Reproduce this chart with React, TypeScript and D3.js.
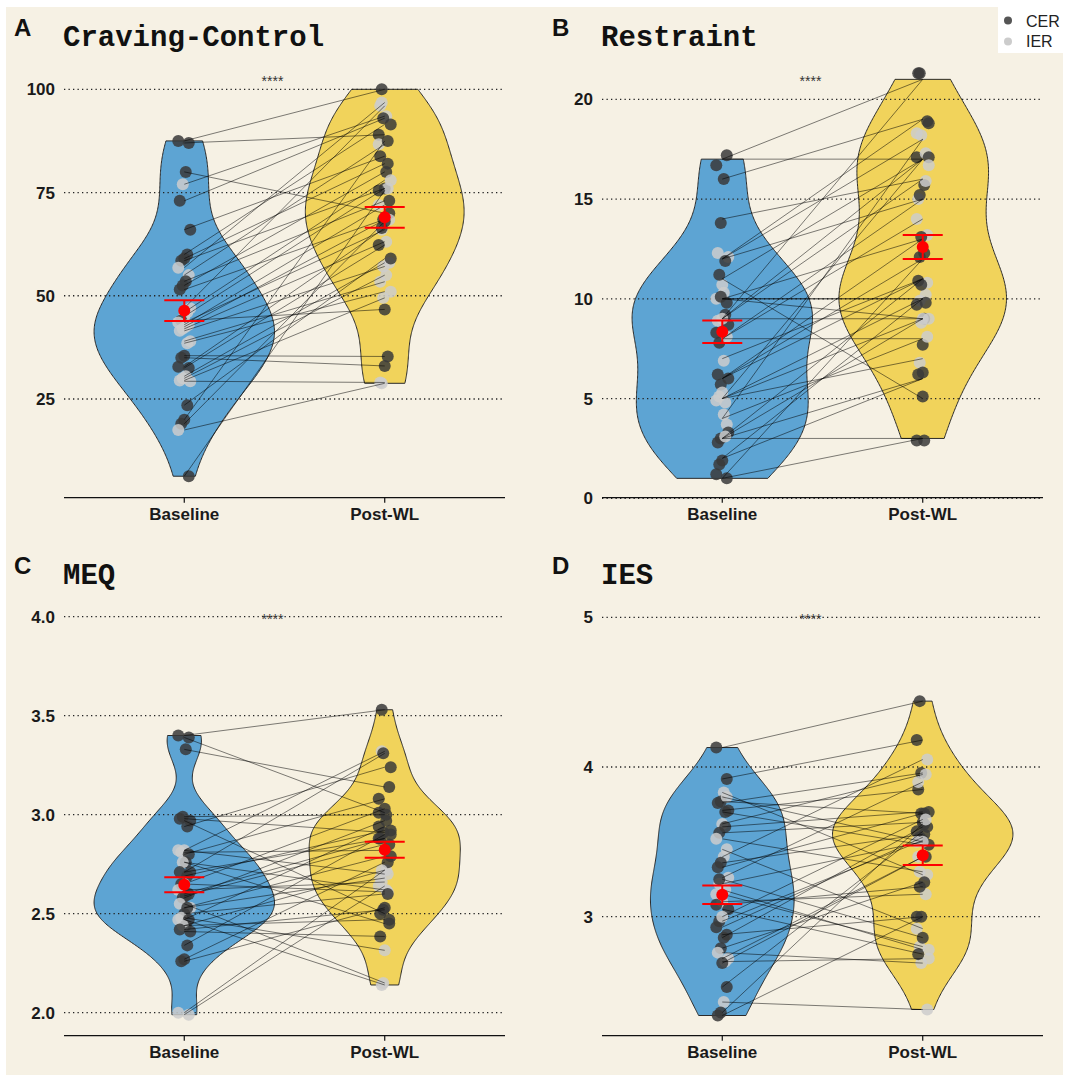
import React from "react";
import * as d3 from "d3";

const timepoints = ["Baseline", "Post-WL"];
const groupNames = ["CER", "IER"];

// A: Craving-Control
const craveBase = [87.5, 87, 80, 77, 73, 66, 60, 59, 58.5, 56.8, 55, 53.5, 52.5, 51.5, 47, 46, 45, 44, 43.5, 43, 42.5, 42, 41.5, 39, 38.5, 35.5, 35, 32.8, 32.5, 30.5, 30, 29.5, 29.3, 23.5, 20, 19, 17.5, 6.3];
const cravePost = [100, 89, 70, 93.5, 93, 83.8, 91.5, 82, 76, 96.8, 86.7, 73, 80, 68.5, 96, 78, 76, 46.7, 66, 72, 68.4, 63.1, 57.1, 53.4, 51, 35.3, 33, 66.4, 62.3, 58, 55, 49.5, 29, 59, 87.5, 68, 28.8, 75.5];
const craveGroup = "CCCICCCCCIICCCIIICIIIIIIICCCCIIIICCCIC";
const craveMean = [46.4, 69.0];
const craveSE = [2.5, 2.5];
const craveTicks = [25, 50, 75, 100];

// B: Restraint
const restrBase = [17, 17, 16, 14, 12, 12, 12, 11, 11, 10, 10, 10, 10, 9, 9, 9, 9, 8, 8, 8, 7, 6, 6, 6, 5, 5, 5, 5, 4, 4, 3, 3, 3, 3, 2, 2, 1, 1];
const restrPost = [21, 17, 19, 16, 18, 15, 19, 17, 5, 10, 10, 13, 9, 9, 21, 17, 16, 8, 15, 14, 11, 12, 13, 11, 17, 10, 9, 7, 18, 8, 3, 11, 6, 9, 10, 6, 12, 3];
const restrGroup = "CCCCIICICICICICCICCIICCCIIIIIICCCICCCC";
const restrMean = [8.35, 12.6];
const restrSE = [0.56, 0.6];
const restrTicks = [0, 5, 10, 15, 20];

// C: MEQ
const meqBase = [3.40, 3.39, 3.33, 2.99, 2.98, 2.97, 2.94, 2.82, 2.81, 2.82, 2.80, 2.76, 2.76, 2.71, 2.71, 2.69, 2.65, 2.65, 2.62, 2.60, 2.59, 2.58, 2.55, 2.53, 2.53, 2.50, 2.48, 2.47, 2.47, 2.44, 2.44, 2.42, 2.41, 2.34, 2.27, 2.26, 2.00, 1.99];
const meqPost = [3.53, 3.01, 3.14, 3.00, 2.91, 2.50, 3.24, 2.70, 2.82, 3.32, 3.08, 2.45, 2.62, 3.31, 2.88, 2.92, 2.61, 3.03, 2.66, 2.88, 2.85, 2.97, 2.15, 2.68, 2.79, 2.60, 2.315, 2.14, 2.94, 2.47, 2.72, 2.52, 2.385, 2.90, 2.76, 2.53, 2.72, 2.64];
const meqGroup = "CCCCCCCIIICCICCCICICCCIICCIICCICCCCCII";
const meqMean = [2.646, 2.823];
const meqSE = [0.038, 0.04];
const meqTicks = [2.0, 2.5, 3.0, 3.5, 4.0];

// D: IES
const iesBase = [4.13, 3.92, 3.83, 3.77, 3.76, 3.71, 3.70, 3.62, 3.56, 3.52, 3.45, 3.40, 3.36, 3.33, 3.26, 3.18, 3.10, 2.97, 2.93, 2.88, 2.86, 2.79, 2.76, 2.72, 2.70, 2.69, 3.22, 3.15, 2.53, 2.43, 2.36, 2.34, 3.05, 3.60, 3.00, 3.25, 3.08, 3.80];
const iesPost = [4.44, 4.18, 3.28, 3.69, 3.96, 3.85, 3.48, 3.95, 3.63, 3.30, 2.92, 4.05, 3.55, 3.69, 3.90, 2.78, 3.15, 3.51, 3.53, 3.00, 3.60, 3.23, 2.69, 3.40, 2.72, 3.40, 3.50, 2.80, 3.57, 2.38, 3.62, 3.00, 2.75, 3.70, 3.65, 2.86, 3.20, 3.50];
const iesGroup = "CCICCCCICIIICCIIICCCCCIIICIICICCCCICCI";
const iesMean = [3.147, 3.41];
const iesSE = [0.062, 0.065];
const iesTicks = [3, 4, 5];

const BG = "#F6F1E4";
const BLUE = "#5DA4D3";
const YELLOW = "#F1D35B";
const DARK = "#3a3a3a";
const LIGHT = "#cdcdcd";

function nrd0(x: number[]) {
  const s = [...x].sort((a, b) => a - b);
  const hi = d3.deviation(s) || 0;
  const iqr = (d3.quantileSorted(s, 0.75)! - d3.quantileSorted(s, 0.25)!) / 1.34;
  let lo = Math.min(hi, iqr);
  if (!lo) lo = hi || Math.abs(s[0]) || 1;
  return 0.9 * lo * Math.pow(s.length, -0.2);
}

function kde(v: number[]) {
  const bw = nrd0(v);
  const lo = d3.min(v)!;
  const hi = d3.max(v)!;
  const n = 256;
  return d3.range(n).map((k) => {
    const yv = lo + ((hi - lo) * k) / (n - 1);
    const d = d3.sum(v, (xi) => Math.exp(-0.5 * ((yv - xi) / bw) ** 2)) / (v.length * bw * Math.sqrt(2 * Math.PI));
    return [yv, d] as [number, number];
  });
}

const jx = (i: number) => (((i * 7) % 9) - 4) * 1.5;
const jy = (i: number) => ((((i * 5) % 7) - 3) / 3) * 0.3;

type Cfg = {
  letter: string;
  title: string;
  base: number[];
  post: number[];
  grp: string;
  mean: number[];
  se: number[];
  ticks: number[];
  fmt: (v: number) => string;
  left: number;
  right: number;
  domain: [number, number];
  range: [number, number];
  axisY: number;
  top: number;
  jitterY: boolean;
};

const SANS = "'Liberation Sans', Arial, sans-serif";

function Panel({ c }: { c: Cfg }) {
  const x = d3.scalePoint<string>().domain(timepoints).range([c.left, c.right]).padding(0.6);
  const y = d3.scaleLinear().domain(c.domain).range(c.range);
  const step = x.step();
  const dens = [c.base, c.post].map(kde);
  const maxD = d3.max(dens.flat(), (d) => d[1])!;
  const fills = [BLUE, YELLOW];
  const groups = c.grp.split("").map((g) => (g === "C" ? groupNames[0] : groupNames[1]));
  const xb = x(timepoints[0])!;
  const xp = x(timepoints[1])!;
  const values = [c.base, c.post];
  return (
    <g>
      <text x={c.left - 50} y={c.top + 36} fontFamily={SANS} fontWeight="bold" fontSize={24} fill="#111">
        {c.letter}
      </text>
      <text x={c.left - 1} y={c.top + 46} fontFamily="'Liberation Mono', 'Courier New', monospace" fontWeight="bold" fontSize={29} fill="#111">
        {c.title}
      </text>
      {dens.map((d, k) => {
        const cx = x(timepoints[k])!;
        const gen = d3
          .area<[number, number]>()
          .y((p) => y(p[0]))
          .x0((p) => cx - (p[1] / maxD) * 0.45 * step)
          .x1((p) => cx + (p[1] / maxD) * 0.45 * step);
        return <path key={k} d={gen(d)!} fill={fills[k]} stroke="#2a2a2a" strokeWidth={1} />;
      })}
      {c.ticks.map((t) => (
        <g key={t}>
          <line x1={c.left} x2={c.right} y1={y(t)} y2={y(t)} stroke="#222" strokeWidth={1.3} strokeDasharray="1.3,3.2" />
          <text x={c.left - 9} y={y(t)} dy="0.36em" textAnchor="end" fontFamily={SANS} fontWeight="bold" fontSize={17} fill="#1a1a1a">
            {c.fmt(t)}
          </text>
        </g>
      ))}
      {values.map((vals, k) =>
        vals.map((v, i) => (
          <circle
            key={`p${k}-${i}`}
            cx={x(timepoints[k])! + jx(i + k * 17)}
            cy={y(v + (c.jitterY ? jy(i + k * 11) : 0))}
            r={6}
            fill={groups[i] === "CER" ? DARK : LIGHT}
            fillOpacity={0.85}
          />
        ))
      )}
      {c.base.map((v, i) => (
        <line key={`l${i}`} x1={xb} y1={y(v)} x2={xp} y2={y(c.post[i])} stroke="#000" strokeOpacity={0.5} strokeWidth={1} />
      ))}
      {c.mean.map((m, k) => {
        const cx = x(timepoints[k])!;
        return (
          <g key={`m${k}`} stroke="#ff0000" strokeWidth={2}>
            <line x1={cx} x2={cx} y1={y(m - c.se[k])} y2={y(m + c.se[k])} />
            <line x1={cx - 20} x2={cx + 20} y1={y(m - c.se[k])} y2={y(m - c.se[k])} />
            <line x1={cx - 20} x2={cx + 20} y1={y(m + c.se[k])} y2={y(m + c.se[k])} />
            <circle cx={cx} cy={y(m)} r={6} fill="#ff0000" stroke="none" />
          </g>
        );
      })}
      <line x1={c.left} x2={c.right} y1={c.axisY} y2={c.axisY} stroke="#111" strokeWidth={1.3} />
      {timepoints.map((t) => (
        <g key={t}>
          <line x1={x(t)} x2={x(t)} y1={c.axisY} y2={c.axisY + 5} stroke="#111" strokeWidth={1.2} />
          <text x={x(t)} y={c.axisY + 22} textAnchor="middle" fontFamily={SANS} fontWeight="bold" fontSize={17} fill="#1a1a1a">
            {t}
          </text>
        </g>
      ))}
      <text x={(xb + xp) / 2 - 12} y={c.top + 86} textAnchor="middle" fontFamily={SANS} fontSize={14} fill="#333">
        ****
      </text>
    </g>
  );
}

const panels: Cfg[] = [
  { letter: "A", title: "Craving-Control", base: craveBase, post: cravePost, grp: craveGroup, mean: craveMean, se: craveSE, ticks: craveTicks, fmt: (v) => String(v), left: 64, right: 505, domain: [25, 100], range: [399, 89.3], axisY: 497.7, top: 0, jitterY: false },
  { letter: "B", title: "Restraint", base: restrBase, post: restrPost, grp: restrGroup, mean: restrMean, se: restrSE, ticks: restrTicks, fmt: (v) => String(v), left: 602, right: 1043, domain: [0, 20], range: [498.3, 99.3], axisY: 497.7, top: 0, jitterY: true },
  { letter: "C", title: "MEQ", base: meqBase, post: meqPost, grp: meqGroup, mean: meqMean, se: meqSE, ticks: meqTicks, fmt: (v) => v.toFixed(1), left: 64, right: 505, domain: [2, 4], range: [1012.7, 616.7], axisY: 1035.7, top: 538, jitterY: false },
  { letter: "D", title: "IES", base: iesBase, post: iesPost, grp: iesGroup, mean: iesMean, se: iesSE, ticks: iesTicks, fmt: (v) => String(v), left: 602, right: 1043, domain: [3, 5], range: [916.7, 617.3], axisY: 1035.7, top: 538, jitterY: false },
];

export default function App() {
  return (
    <div style={{ position: "absolute", left: 0, top: 0 }}>
      <svg width={1068} height={1077} style={{ display: "block", background: "#fff" }}>
        <rect x={6} y={7} width={1057} height={1068} fill={BG} />
        {panels.map((p) => (
          <Panel key={p.letter} c={p} />
        ))}
        <rect x={998} y={0} width={70} height={53} fill="#fff" />
        {groupNames.map((g, i) => (
          <g key={g}>
            <circle cx={1008} cy={20.5 + i * 21} r={4} fill={i === 0 ? "#555" : "#cccccc"} />
            <text x={1026} y={26.5 + i * 20} fontFamily={SANS} fontSize={16} fill="#222">
              {g}
            </text>
          </g>
        ))}
      </svg>
    </div>
  );
}
